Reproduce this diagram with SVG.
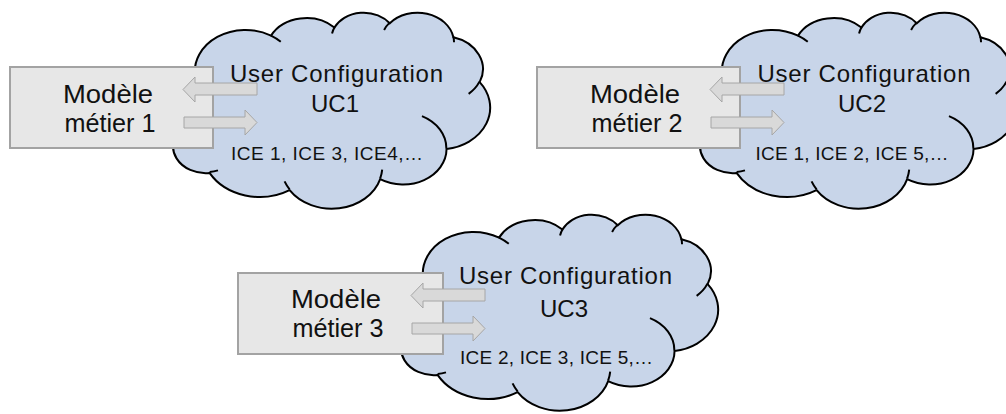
<svg xmlns="http://www.w3.org/2000/svg" xmlns:xlink="http://www.w3.org/1999/xlink" width="1006" height="414" viewBox="0 0 1006 414">
<style>
.cloud{fill:#c8d5e9;stroke:#000;stroke-width:2;vector-effect:non-scaling-stroke}
.inner{fill:none;stroke:#000;stroke-width:2;vector-effect:non-scaling-stroke}
.box{fill:#e7e7e7;stroke:#a3a3a3;stroke-width:2}
.arr{fill:#d9d9d9;stroke:#a6a6a6;stroke-width:1}
.t{font-family:"Liberation Sans",Arial,sans-serif;fill:#111;text-anchor:middle}
.big{font-size:24px}
.mod{font-size:25px}
.small{font-size:19px}
</style>
<defs>
<g id="cloudshape">
<path class="cloud" d="M3900,14370 A6753,9190 0 0 1 14005,5203 A5333,7267 0 0 1 22458,3435 A4365,5945 0 0 1 29836,2485 A4857,6595 0 0 1 38321,5580 A5333,7273 0 0 1 41821,15464 A6775,9220 0 0 1 37407,30207 A5785,7867 0 0 1 28558,36817 A6752,9215 0 0 1 16483,39269 A7720,10543 0 0 1 5807,35473 A4360,5918 0 0 1 2116,25550 A4345,5945 0 0 1 3900,14370 Z"/>
<path class="inner" d="M4693,26177 A4345,5945 0 0 1 2160,25380 M6928,34899 A4360,5918 0 0 1 5819,35281 M16478,39090 A6752,9215 0 0 1 15810,37347 M28827,34751 A6752,9215 0 0 1 28560,36661 M34129,22954 A5785,7867 0 0 1 37381,30089 M41798,15354 A5333,7273 0 0 1 40350,18031 M38324,5426 A4857,6595 0 0 1 38401,6690 M29078,3952 A4857,6595 0 0 1 29820,2340 M22141,4720 A4365,5945 0 0 1 22500,3329 M14000,5192 A6753,9190 0 0 1 15302,6543 M4127,15789 A6753,9190 0 0 1 3944,13486"/>
</g>
<path id="arrL" class="arr" d="M183,89.5 L195,77 L195,83 L257,83 L257,95 L195,95 L195,102 Z"/>
<path id="arrR" class="arr" d="M257,122.5 L245,110 L245,117 L184,117 L184,128 L245,128 L245,135 Z"/>
</defs>

<g id="cloud1">
<use xlink:href="#cloudshape" transform="translate(166,12) scale(0.0075,0.0045370)"/>
<text class="t big" x="336.5" y="81.5" textLength="213" lengthAdjust="spacing">User Configuration</text>
<text class="t big" x="335" y="112">UC1</text>
<text class="t small" x="327" y="159.5" textLength="192" lengthAdjust="spacing">ICE 1, ICE 3, ICE4,…</text>
</g>
<g id="cloud2">
<use xlink:href="#cloudshape" transform="translate(693,12) scale(0.0075,0.0045370)"/>
<text class="t big" x="864" y="81.5" textLength="213" lengthAdjust="spacing">User Configuration</text>
<text class="t big" x="862" y="112">UC2</text>
<text class="t small" x="852" y="159.5" textLength="193" lengthAdjust="spacing">ICE 1, ICE 2, ICE 5,…</text>
</g>
<g id="cloud3">
<use xlink:href="#cloudshape" transform="translate(394,214) scale(0.0075,0.0045370)"/>
<text class="t big" x="565.5" y="284" textLength="213" lengthAdjust="spacing">User Configuration</text>
<text class="t big" x="564" y="317">UC3</text>
<text class="t small" x="556.5" y="363.5" textLength="193" lengthAdjust="spacing">ICE 2, ICE 3, ICE 5,…</text>
</g>

<g id="model1">
<rect class="box" x="10" y="67" width="203" height="81"/>
<text class="t mod" x="108" y="103" textLength="90" lengthAdjust="spacingAndGlyphs">Modèle</text>
<text class="t mod" x="110" y="132" textLength="91" lengthAdjust="spacingAndGlyphs">métier 1</text>
</g>
<g id="model2">
<rect class="box" x="537" y="67" width="203" height="81"/>
<text class="t mod" x="635" y="103" textLength="90" lengthAdjust="spacingAndGlyphs">Modèle</text>
<text class="t mod" x="637" y="132" textLength="91" lengthAdjust="spacingAndGlyphs">métier 2</text>
</g>
<g id="model3">
<rect class="box" x="238" y="273" width="205" height="81"/>
<text class="t mod" x="336" y="308" textLength="90" lengthAdjust="spacingAndGlyphs">Modèle</text>
<text class="t mod" x="338" y="337" textLength="91" lengthAdjust="spacingAndGlyphs">métier 3</text>
</g>

<g id="connectors">
<use xlink:href="#arrL"/>
<use xlink:href="#arrR"/>
<use xlink:href="#arrL" transform="translate(527,0)"/>
<use xlink:href="#arrR" transform="translate(527,0)"/>
<use xlink:href="#arrL" transform="translate(228,206)"/>
<use xlink:href="#arrR" transform="translate(228,206)"/>
</g>
</svg>
